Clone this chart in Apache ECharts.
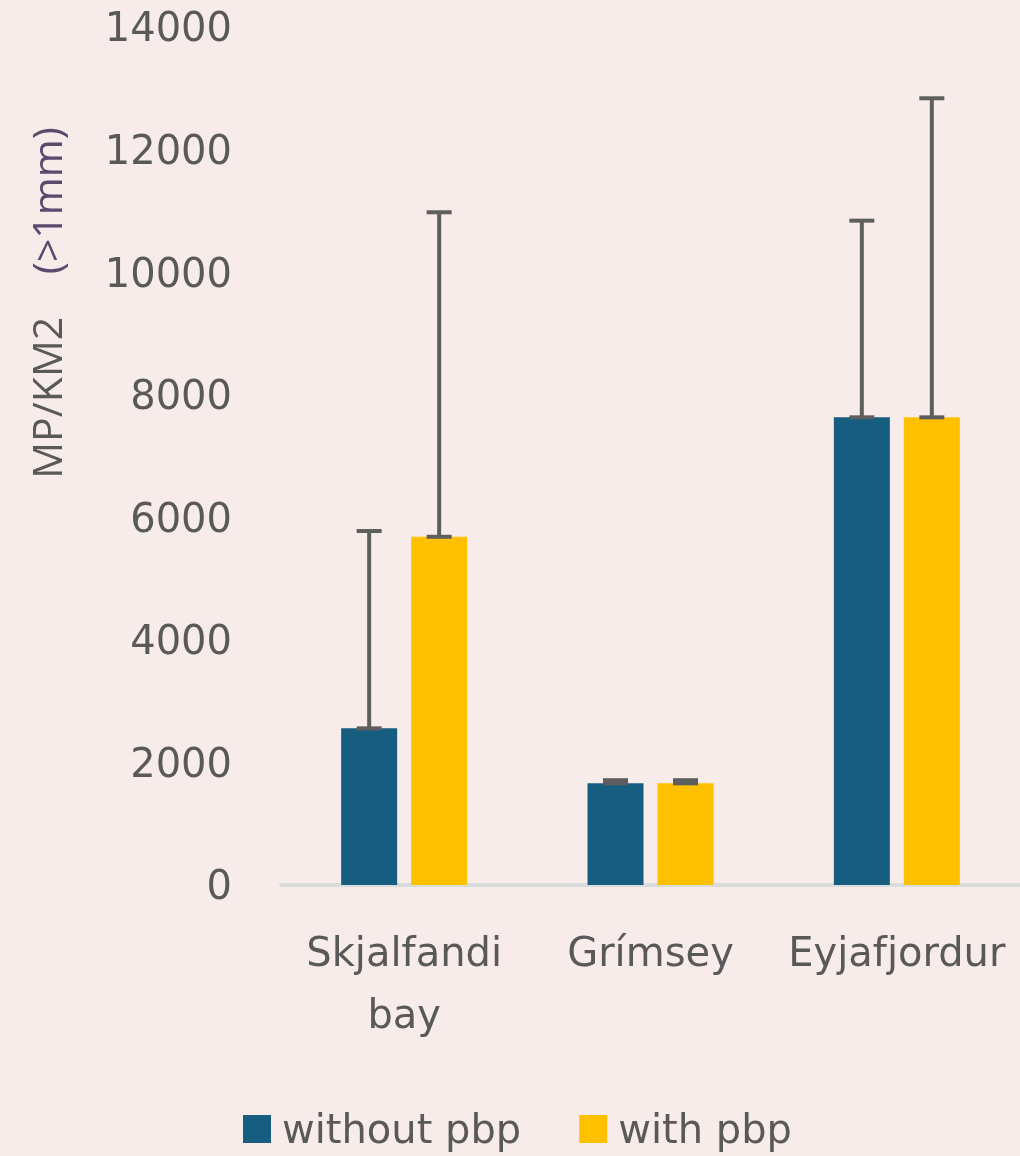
<!DOCTYPE html>
<html>
<head>
<meta charset="utf-8">
<script src="https://cdn.jsdelivr.net/npm/echarts@6/dist/echarts.min.js"></script>
<style>
html,body{margin:0;padding:0;background:#F8ECEA;}
#chart{width:1020px;height:1156px;}
</style>
</head>
<body>
<div id="chart"></div>
<script>
const categories = ['Skjalfandi\nbay', 'Grímsey', 'Eyjafjordur'];
const seriesNames = ['without pbp', 'with pbp'];
const withoutPbp = [2556, 1659, 7631];
const withPbp = [5682, 1659, 7631];
const withoutPbpUpper = [5776, 1710, 10840];
const withPbpUpper = [10977, 1710, 12837];
const yTicks = [0, 2000, 4000, 6000, 8000, 10000, 12000, 14000];

const FONT = '"DejaVu Sans", sans-serif';
const NAME_FONT = '"Open Sans", "Liberation Sans", sans-serif';
const TEXT = '#595959';
const BAR_W = 56, BAR_GAP = 14;
const OFF = (BAR_W + BAR_GAP) / 2;

function errData(vals, uppers) {
  return vals.map((v, i) => [i, v, uppers[i]]);
}
function errRender(offset) {
  return function (params, api) {
    const i = api.value(0);
    const base = api.coord([i, api.value(1)]);
    const top = api.coord([i, api.value(2)]);
    const x = base[0] + offset;
    const cap = 12.5;
    const style = { stroke: '#5E5E5E', lineWidth: 4, fill: null };
    return {
      type: 'group',
      children: [
        { type: 'line', shape: { x1: x, y1: base[1], x2: x, y2: top[1] }, style: style },
        { type: 'line', shape: { x1: x - cap, y1: top[1], x2: x + cap, y2: top[1] }, style: style },
        { type: 'line', shape: { x1: x - cap, y1: base[1], x2: x + cap, y2: base[1] }, style: style }
      ]
    };
  };
}

const chart = echarts.init(document.getElementById('chart'));
chart.setOption({
  backgroundColor: '#F8ECEA',
  animation: false,
  textStyle: { fontFamily: FONT },
  grid: { left: 281, right: -5, top: 27, bottom: 271, containLabel: false },
  legend: {
    data: seriesNames,
    left: 243, top: 1113, padding: 0,
    itemWidth: 28, itemHeight: 28, itemGap: 58,
    icon: 'rect',
    formatter: '{t|{name}}',
    textStyle: {
      fontSize: 40, color: TEXT, fontFamily: FONT,
      rich: { t: { fontSize: 40, color: TEXT, fontFamily: FONT, padding: [8, 0, 0, 6] } }
    }
  },
  graphic: [{
    type: 'text',
    x: 50, y: 303,
    rotation: Math.PI / 2,
    style: {
      text: '{a|MP/KM2}{a|    }{b|(>1mm)}',
      align: 'center', verticalAlign: 'middle',
      rich: {
        a: { fontSize: 41, fontFamily: NAME_FONT, fill: TEXT, color: TEXT },
        b: { fontSize: 41, fontFamily: NAME_FONT, fill: '#5A4A6C', color: '#5A4A6C' }
      }
    }
  }],
  xAxis: {
    type: 'category',
    data: categories,
    axisLine: { show: true, lineStyle: { color: '#D9DCDC', width: 4 } },
    axisTick: { show: false },
    axisLabel: { fontSize: 40, color: TEXT, fontFamily: FONT, lineHeight: 62, margin: 40, interval: 0 }
  },
  yAxis: {
    type: 'value',
    min: 0, max: 14000, interval: 2000,
    axisLine: { show: false },
    axisTick: { show: false },
    splitLine: { show: false },
    axisLabel: {
      fontSize: 40, color: TEXT, fontFamily: FONT, margin: 49,
      formatter: v => yTicks.includes(v) ? '{n|' + v + '}' : '',
      rich: { n: { fontSize: 40, color: TEXT, fontFamily: FONT, padding: [8, 0, 0, 0] } }
    }
  },
  series: [
    { name: seriesNames[0], type: 'bar', data: withoutPbp, barWidth: BAR_W, barGap: (BAR_GAP / BAR_W * 100) + '%',
      itemStyle: { color: '#175D7F' } },
    { name: seriesNames[1], type: 'bar', data: withPbp, barWidth: BAR_W,
      itemStyle: { color: '#FFC000' } },
    { type: 'custom', data: errData(withoutPbp, withoutPbpUpper), renderItem: errRender(-OFF), z: 10,
      encode: { x: 0, y: [1, 2] }, silent: true },
    { type: 'custom', data: errData(withPbp, withPbpUpper), renderItem: errRender(OFF), z: 10,
      encode: { x: 0, y: [1, 2] }, silent: true }
  ]
});
</script>
</body>
</html>
